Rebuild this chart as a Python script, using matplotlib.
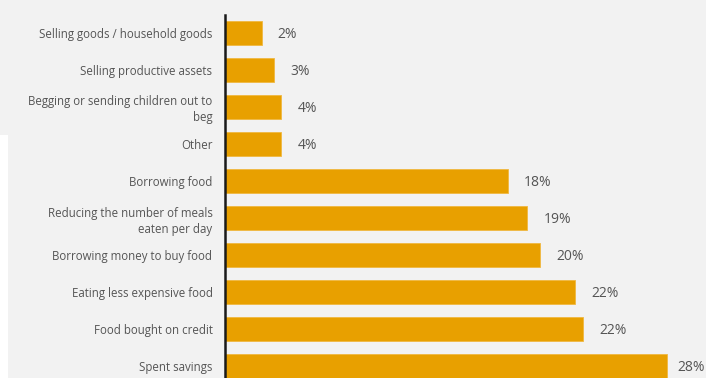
import matplotlib.pyplot as plt
from matplotlib.patches import Rectangle

plt.rcParams['font.family'] = ['Open Sans', 'DejaVu Sans']

strategies = [
    "Selling goods / household goods",
    "Selling productive assets",
    "Begging or sending children out to\nbeg",
    "Other",
    "Borrowing food",
    "Reducing the number of meals\neaten per day",
    "Borrowing money to buy food",
    "Eating less expensive food",
    "Food bought on credit",
    "Spent savings",
]
share = [2.3, 3.06, 3.52, 3.52, 17.67, 18.9, 19.7, 21.9, 22.4, 27.6]

bg = "#f2f2f2"
bar_col = "#e8a000"
txt_col = "#555555"

W, H = 706, 378
fig = plt.figure(figsize=(W / 100, H / 100), dpi=100, facecolor=bg)

# thin white strip down the left edge
fig.patches.append(Rectangle((0, 0), 8 / W, 1 - 135 / H, transform=fig.transFigure,
                             facecolor="white", edgecolor="none", zorder=0))

# axes geometry in pixels: spine at x=225, 37 px per row, first row centred at y=33
left_px, top_px, row_px, px_per_pct = 225, 14.5, 37, 16
n = len(strategies)
ax_h = n * row_px
ax = fig.add_axes([left_px / W, 1 - (top_px + ax_h) / H, (W - left_px) / W, ax_h / H])
ax.set_facecolor(bg)

ypos = list(range(n))
ax.barh(ypos, share, height=24 / row_px, color=bar_col, edgecolor="#f0b840", linewidth=0.6)
ax.set_xlim(0, (W - left_px) / px_per_pct)
ax.set_ylim(n - 0.5, -0.5)

labels = []
for y, v in zip(ypos, share):
    t = ax.annotate(f"{round(v)}%", (v, y), xytext=(16, -1.5), textcoords="offset pixels",
                    va="center", ha="left", fontsize=10, color=txt_col)
    labels.append(t)

ax.set_yticks(ypos)
ax.set_yticklabels(strategies, fontsize=8.3, color=txt_col, linespacing=1.3)
ax.tick_params(axis="y", length=0, pad=9)
ax.set_xticks([])
for s in ["top", "right", "bottom"]:
    ax.spines[s].set_visible(False)
ax.spines["left"].set_color("#1a1a1a")
ax.spines["left"].set_linewidth(1.8)

# pull value labels back inside the right edge if they overflow
fig.canvas.draw()
r = fig.canvas.get_renderer()
for t in labels:
    bb = t.get_window_extent(r)
    over = bb.x1 - (W - 1)
    if over > 0:
        ox, oy = t.xyann
        t.xyann = (ox - over, oy)

fig.savefig("out.png", dpi=100, facecolor=bg)
